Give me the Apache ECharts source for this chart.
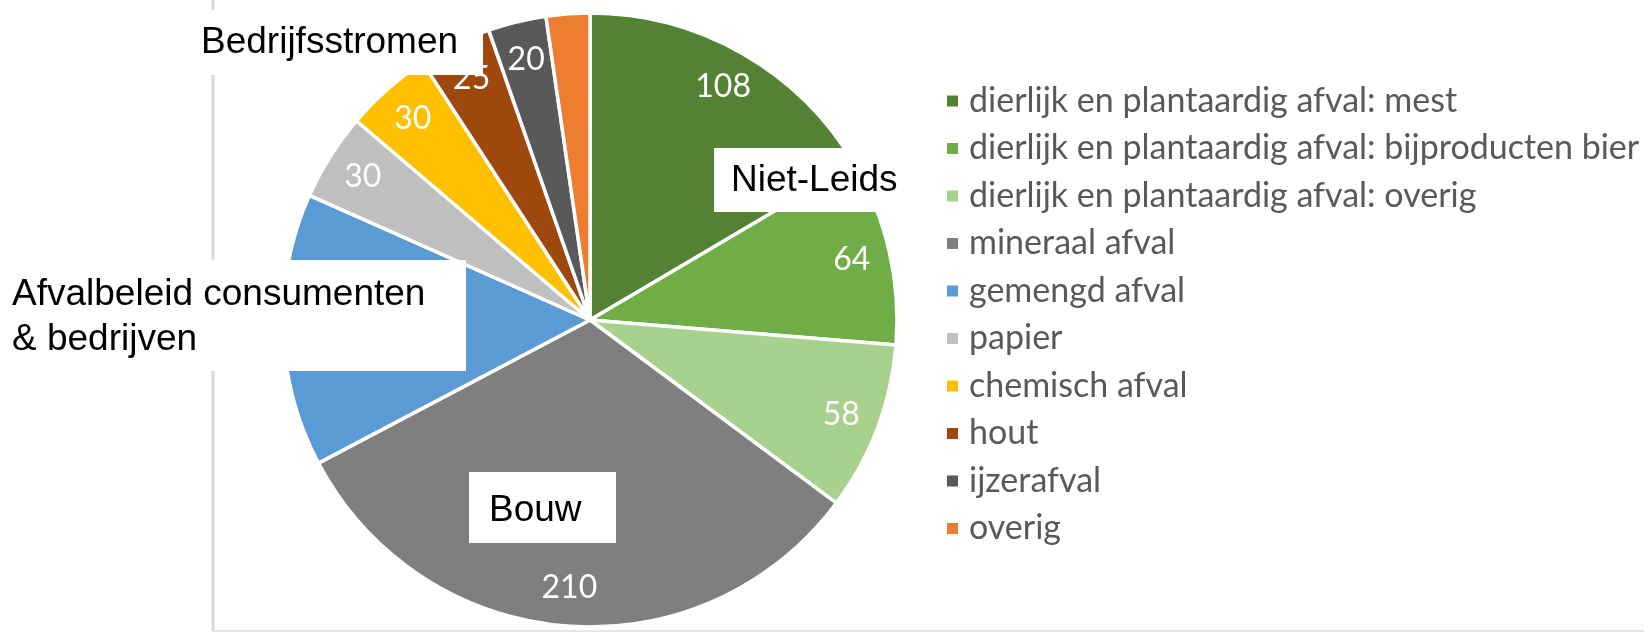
<!DOCTYPE html>
<html>
<head>
<meta charset="utf-8">
<script src="https://cdn.jsdelivr.net/npm/echarts@6/dist/echarts.min.js"></script>
<style>
  html, body { margin: 0; padding: 0; background: #ffffff; }
  #chart { width: 1644px; height: 632px; }
</style>
</head>
<body>
<div id="chart"></div>
<script>
const categories = [
  'dierlijk en plantaardig afval: mest',
  'dierlijk en plantaardig afval: bijproducten bier',
  'dierlijk en plantaardig afval: overig',
  'mineraal afval',
  'gemengd afval',
  'papier',
  'chemisch afval',
  'hout',
  'ijzerafval',
  'overig'
];
const values = [108, 64, 58, 210, 94, 30, 30, 25, 20, 15];
const showValueLabel = [true, true, true, true, true, true, true, true, true, false];
const colors = ['#548235', '#70AD47', '#A9D18E', '#7F7F7F', '#5B9BD5', '#BFBFBF', '#FFC000', '#9E480E', '#595959', '#ED7D31'];
const annotationTexts = ['Bedrijfsstromen', 'Afvalbeleid consumenten\n& bedrijven', 'Niet-Leids', 'Bouw'];

const pieCenter = [590, 320];
const pieRadius = 307;

const chart = echarts.init(document.getElementById('chart'), null, { renderer: 'canvas' });

const baseData = categories.map((name, i) => ({
  name: name,
  value: values[i],
  itemStyle: { color: colors[i] }
}));

const labelData = categories.map((name, i) => ({
  name: name,
  value: values[i],
  itemStyle: { color: 'rgba(0,0,0,0)', borderWidth: 0 },
  label: { show: showValueLabel[i] }
}));

const boxStyle = { fill: '#ffffff' };
const annotFont = { fontFamily: '"Liberation Sans", Arial, sans-serif', fontSize: 37, fill: '#000000' };

chart.setOption({
  animation: false,
  color: colors,
  legend: {
    orient: 'vertical',
    left: 940,
    top: 79,
    icon: 'rect',
    itemWidth: 13,
    itemHeight: 13,
    itemGap: 13.5,
    selectedMode: false,
    data: categories,
    textStyle: {
      fontFamily: 'Lato, "Open Sans", sans-serif',
      fontSize: 34,
      lineHeight: 30,
      color: '#595959',
      padding: [0, 0, 0, 5]
    }
  },
  series: [
    {
      type: 'pie',
      center: pieCenter,
      radius: [0, pieRadius],
      startAngle: 90,
      clockwise: true,
      silent: true,
      label: { show: false },
      labelLine: { show: false },
      itemStyle: { borderColor: '#ffffff', borderWidth: 3.5 },
      data: baseData
    },
    {
      type: 'pie',
      center: pieCenter,
      radius: [224, pieRadius],
      startAngle: 90,
      clockwise: true,
      silent: true,
      labelLine: { show: false },
      label: {
        position: 'inside',
        formatter: '{c}',
        color: '#ffffff',
        fontFamily: 'Lato, "Open Sans", sans-serif',
        fontSize: 32
      },
      data: labelData
    }
  ],
  graphic: [
    { type: 'line', shape: { x1: 213, y1: 0, x2: 213, y2: 631 }, style: { stroke: '#d9d9d9', lineWidth: 3 }, z: 0 },
    { type: 'line', shape: { x1: 213, y1: 631, x2: 1644, y2: 631 }, style: { stroke: '#e6e6e6', lineWidth: 2 }, z: 0 },
    { type: 'rect', shape: { x: 190, y: 10, width: 293, height: 65 }, style: boxStyle, z: 100 },
    { type: 'text', x: 201, y: 43, style: Object.assign({ text: annotationTexts[0], verticalAlign: 'middle' }, annotFont), z: 101 },
    { type: 'rect', shape: { x: 0, y: 260, width: 466, height: 111 }, style: boxStyle, z: 100 },
    { type: 'text', x: 12, y: 295, style: Object.assign({ text: annotationTexts[1].split('\n')[0], verticalAlign: 'middle' }, annotFont), z: 101 },
    { type: 'text', x: 12, y: 340, style: Object.assign({ text: annotationTexts[1].split('\n')[1], verticalAlign: 'middle' }, annotFont), z: 101 },
    { type: 'rect', shape: { x: 714, y: 148, width: 191, height: 64 }, style: boxStyle, z: 100 },
    { type: 'text', x: 731, y: 181, style: Object.assign({ text: annotationTexts[2], verticalAlign: 'middle' }, annotFont), z: 101 },
    { type: 'rect', shape: { x: 469, y: 472, width: 147, height: 71 }, style: boxStyle, z: 100 },
    { type: 'text', x: 489, y: 511, style: Object.assign({ text: annotationTexts[3], verticalAlign: 'middle' }, annotFont), z: 101 }
  ]
});
</script>
</body>
</html>
